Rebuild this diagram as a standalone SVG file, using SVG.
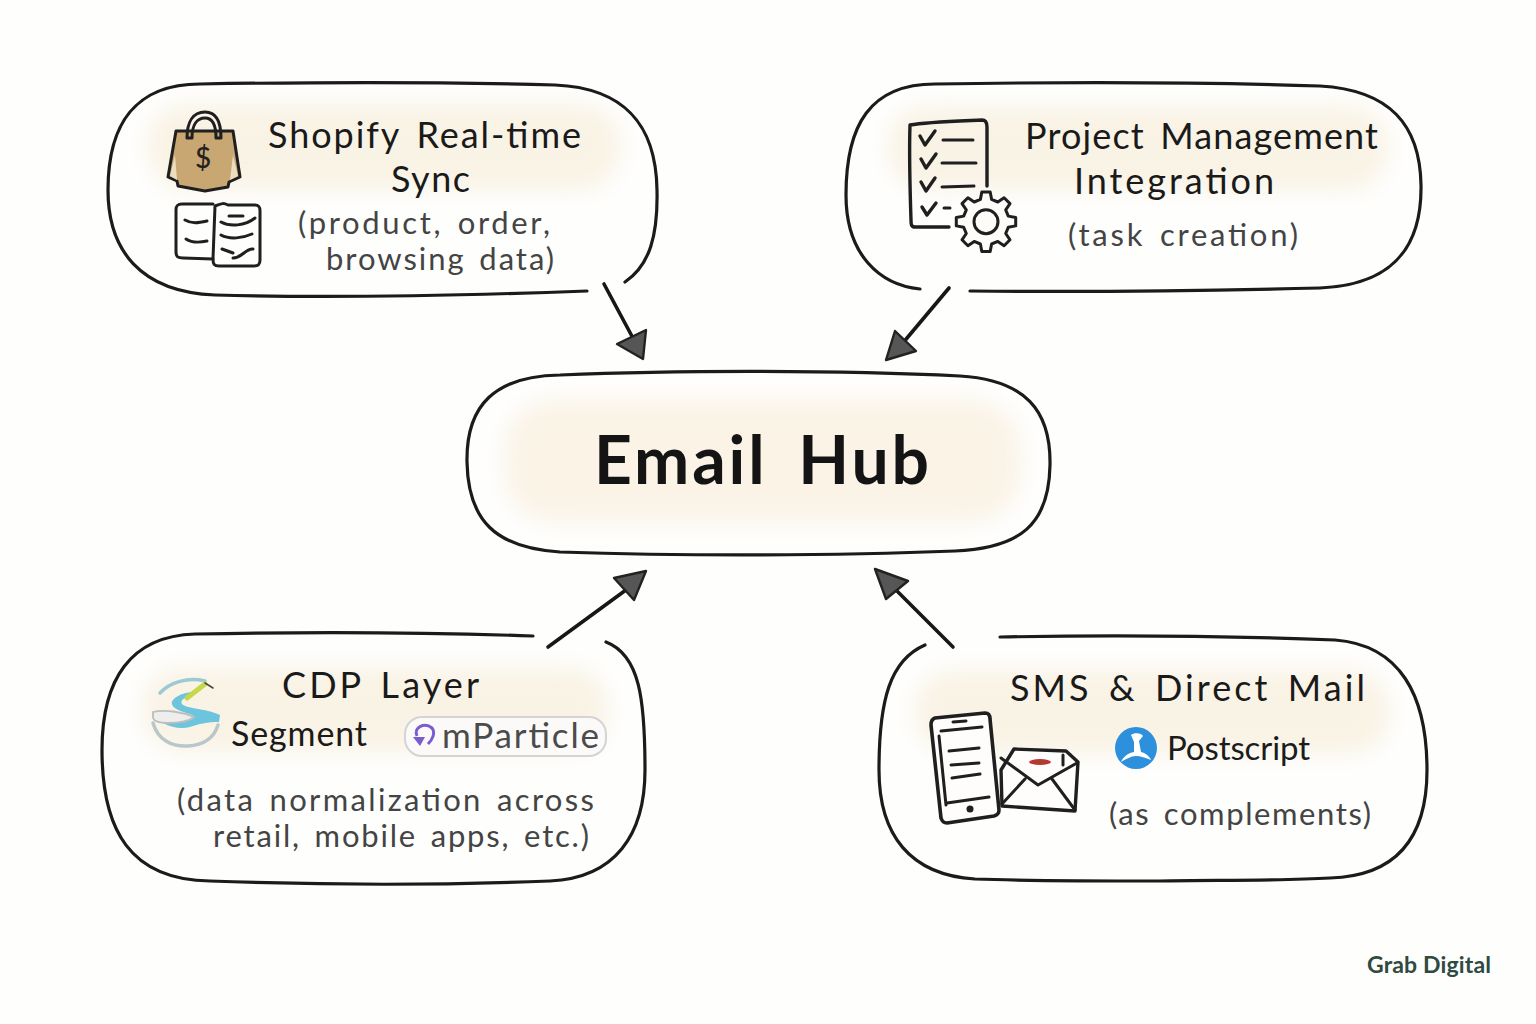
<svg xmlns="http://www.w3.org/2000/svg" width="1536" height="1024" viewBox="0 0 1536 1024">
<defs>
<filter id="soft" x="-15%" y="-30%" width="130%" height="160%"><feGaussianBlur stdDeviation="11"/></filter>
<style>
text{font-family:"Lato","Noto Sans","DejaVu Sans",sans-serif;fill:#1a1a1a;text-anchor:start}
.h{font-size:36px;word-spacing:5px}
.s{font-size:31px;fill:#444;word-spacing:4px}
.b{fill:none;stroke:#1b1b1b;stroke-width:3.2;stroke-linecap:round;stroke-linejoin:round}
.i{fill:none;stroke:#1f1f1f;stroke-width:3;stroke-linecap:round;stroke-linejoin:round}
.a{fill:none;stroke:#171717;stroke-width:3.6;stroke-linecap:round}
.t{fill:#565656;stroke:#222;stroke-width:2.4;stroke-linejoin:round}
.p{fill:#f9f3e5}
</style>
</defs>
<rect width="1536" height="1024" fill="#fefefd"/>

<g id="connectors">
<path class="a" d="M604 284L634 340"/><path class="t" d="M617 344L646 330L643 359Z"/>
<path class="a" d="M949 288L902 344"/><path class="t" d="M895 331L916 351L886 360Z"/>
<path class="a" d="M548 647L630 587"/><path class="t" d="M614 578L646 571L634 600Z"/>
<path class="a" d="M953 647L893 587"/><path class="t" d="M875 569L908 581L886 599Z"/>
</g>

<g id="shopify">
<rect class="p" x="148" y="104" width="472" height="86" rx="40" filter="url(#soft)"/>
<path class="b" d="M587 291C450 296 320 298 215 295C140 292 108 250 108 190C108 125 135 84 200 84C320 82 450 82 555 85C625 88 656 125 657 190C658 235 650 265 625 282"/>
<path d="M176 131L233 131L240 177L229 182L228 187L205 191L178 186L177 181L168 177Z" fill="#c9a772" stroke="#1f1f1f" stroke-width="3" stroke-linejoin="round"/>
<path d="M175 155L170 176L177 180ZM233 155L238 176L230 180Z" fill="#ecdcc0"/>
<path class="i" d="M187 138C187 122 193 112 205 112C216 112 221 122 221 138M192 138C192 125 197 118 205 118C212 118 216 125 216 138M187 138L192 138M216 138L221 138"/>
<text x="195" y="168" style="font-size:28px;font-weight:500;fill:#222;word-spacing:0">$</text>
<path class="i" d="M213 204L182 204C177 204 176 206 176 210L176 252C176 257 178 258 183 258L213 259"/>
<path class="i" d="M215 206C222 203 224 203 228 205L255 205C259 205 260 207 260 211L260 260C260 265 258 266 254 266L219 266C214 266 213 264 213 259Z"/>
<path class="i" d="M185 220C192 224 198 223 207 221M186 239C192 243 198 243 207 241M229 216L243 216M221 222C230 227 245 226 255 218M221 235C230 240 243 238 252 234M222 249L233 253M233 258C242 258 246 248 253 249"/>
<text class="h" x="268" y="148" textLength="313">Shopify Real-time</text>
<text class="h" x="391" y="192" textLength="79">Sync</text>
<text class="s" x="298" y="234" textLength="252">(product, order,</text>
<text class="s" x="326" y="270" textLength="228">browsing data)</text>
</g>

<g id="project">
<rect class="p" x="888" y="106" width="500" height="84" rx="40" filter="url(#soft)"/>
<path class="b" d="M920 289C880 285 846 255 846 195C846 125 870 84 935 84C1060 82 1200 82 1320 86C1390 90 1420 125 1421 185C1422 250 1390 285 1320 288C1200 291 1080 292 970 291"/>
<path class="i" style="stroke-width:3.4" d="M949 227L915 227C911 227 911 224 911 220C910 190 909 155 910 125C926 122 960 121 982 120C986 120 987 123 987 127L987 186"/>
<path class="i" style="stroke-width:3.4" d="M920 136L925 145L935 131M921 159L926 168L936 154M921 182L926 191L935 178M922 207L927 215L936 203"/>
<path class="i" d="M943 140L973 140M942 163L976 163M942 187L974 186M944 208L950 208"/>
<path class="i" style="fill:#fefcf8" transform="translate(986 221.7)" d="M22.3 -5.6L29.7 -4.2L29.7 4.2L22.3 5.6L19.7 11.8L24 18.1L18.1 24L11.8 19.7L5.6 22.3L4.2 29.7L-4.2 29.7L-5.6 22.3L-11.8 19.7L-18.1 24L-24 18.1L-19.7 11.8L-22.3 5.6L-29.7 4.2L-29.7 -4.2L-22.3 -5.6L-19.7 -11.8L-24 -18.1L-18.1 -24L-11.8 -19.7L-5.6 -22.3L-4.2 -29.7L4.2 -29.7L5.6 -22.3L11.8 -19.7L18.1 -24L24 -18.1L19.7 -11.8Z"/>
<circle class="i" cx="986" cy="221.7" r="12"/>
<text class="h" x="1025" y="149" textLength="353">Project Management</text>
<text class="h" x="1074" y="194" textLength="200">Integration</text>
<text class="s" x="1068" y="246" textLength="230">(task creation)</text>
</g>

<g id="hub">
<rect x="505" y="400" width="515" height="122" rx="50" fill="#faf3e6" filter="url(#soft)"/>
<path class="b" d="M467 462C466 405 495 376 560 375C680 370 840 370 960 376C1025 380 1051 410 1050 465C1049 525 1020 548 955 551C830 556 680 556 560 552C495 548 468 520 467 462Z"/>
<text x="594" y="484" style="font-size:66px;font-weight:700;fill:#141414;word-spacing:12px" textLength="335">Email Hub</text>
</g>

<g id="cdp">
<rect class="p" x="143" y="668" width="465" height="84" rx="38" filter="url(#soft)"/>
<path class="b" d="M533 636C420 632 300 632 195 634C130 636 102 680 102 750C102 830 130 880 210 881C320 885 450 885 550 881C615 878 645 835 645 770C645 700 640 655 606 642"/>
<path d="M160 693C170 682 188 677 205 681" fill="none" stroke="#9cc9d4" stroke-width="3.5" stroke-linecap="round"/>
<path d="M196 692C188 697 179 699 182 704C186 709 205 708 220 715L219 722C208 722 198 724 190 727C182 729 172 728 163 723C175 723 190 722 194 718C198 714 173 712 172 704C170 698 185 691 196 692Z" fill="#6cc5dd"/>
<path d="M187 698L205 684" fill="none" stroke="#c5d84a" stroke-width="5" stroke-linecap="round"/>
<path d="M205 683L213 688" fill="none" stroke="#444" stroke-width="1.5" stroke-linecap="round"/>
<path d="M153 712C165 709 182 712 194 717C188 722 175 723 168 723C160 723 154 721 153 718Z" fill="#eeeeec" stroke="#bdbdbd" stroke-width="1.8"/>
<path d="M153 723C158 740 172 747 188 746C204 745 214 738 218 725" fill="none" stroke="#b9c7cb" stroke-width="3.5" stroke-linecap="round"/>
<rect x="405" y="717" width="201" height="39" rx="17" fill="#fbfaf8" stroke="#d4d4d6" stroke-width="2"/>
<path d="M417 736C413 727 425 722 432 728C436 733 432 740 428 744" fill="none" stroke="#7a5bd0" stroke-width="3"/>
<path d="M413 737L425 737L420 746Z" fill="#7a5bd0"/>
<text x="442" y="748" style="font-size:35px;fill:#4b4b4b" textLength="157">mParticle</text>
<text class="h" x="282" y="698" textLength="197">CDP Layer</text>
<text class="h" x="231" y="746" textLength="136" style="font-size:34px">Segment</text>
<text class="s" x="177" y="811" textLength="417">(data normalization across</text>
<text class="s" x="213" y="847" textLength="376">retail, mobile apps, etc.)</text>
</g>

<g id="sms">
<rect class="p" x="915" y="670" width="475" height="84" rx="40" filter="url(#soft)"/>
<path class="b" d="M1000 637C1110 635 1230 636 1335 640C1400 645 1427 695 1427 770C1427 840 1395 876 1330 878C1280 881 1215 880 1160 881C1100 881 1030 881 975 879C910 875 879 835 879 770C879 700 890 660 925 645"/>
<path class="i" style="stroke-width:3.6;fill:#fefdfb" d="M935 718L985 713C989 713 990 716 990 719L999 810C999 814 997 815 994 816L947 823C943 823 942 821 941 818L931 725C931 721 932 719 935 718Z"/>
<path class="i" d="M953 722L966 721M941 731L982 727M939 736L946 805M949 751L979 748M951 765L979 763M952 778L980 774M947 803L989 797"/>
<circle cx="970" cy="809" r="3.5" fill="#1f1f1f"/>
<path class="i" style="fill:#fefdfb;stroke-width:3.4" d="M1001 770L1014 749L1066 751L1078 762L1075 811L1002 806Z"/>
<path class="i" d="M1001 758L1038 785L1077 763M1002 804L1025 779M1052 779L1075 810M1063 755L1063 765"/>
<ellipse cx="1040" cy="762" rx="11" ry="3" fill="#b33a32"/>
<circle cx="1136" cy="748" r="21" fill="#2c90dc"/>
<path d="M1131 735C1134 732 1142 733 1143 736L1139 741L1141 752C1146 753 1150 757 1151 760C1146 758 1140 756 1136 756C1131 756 1126 759 1121 762C1123 757 1128 753 1134 752L1134 742Z" fill="#fff"/>
<text x="1167" y="760" style="font-size:33px;fill:#1c1c1c" textLength="143">Postscript</text>
<text class="h" x="1010" y="701" textLength="355">SMS &amp; Direct Mail</text>
<text class="s" x="1109" y="825" textLength="262">(as complements)</text>
</g>

<g id="brand">
<text x="1367" y="973" style="font-size:23px;font-weight:700;fill:#2f4a40" textLength="124">Grab Digital</text>
</g>
</svg>
